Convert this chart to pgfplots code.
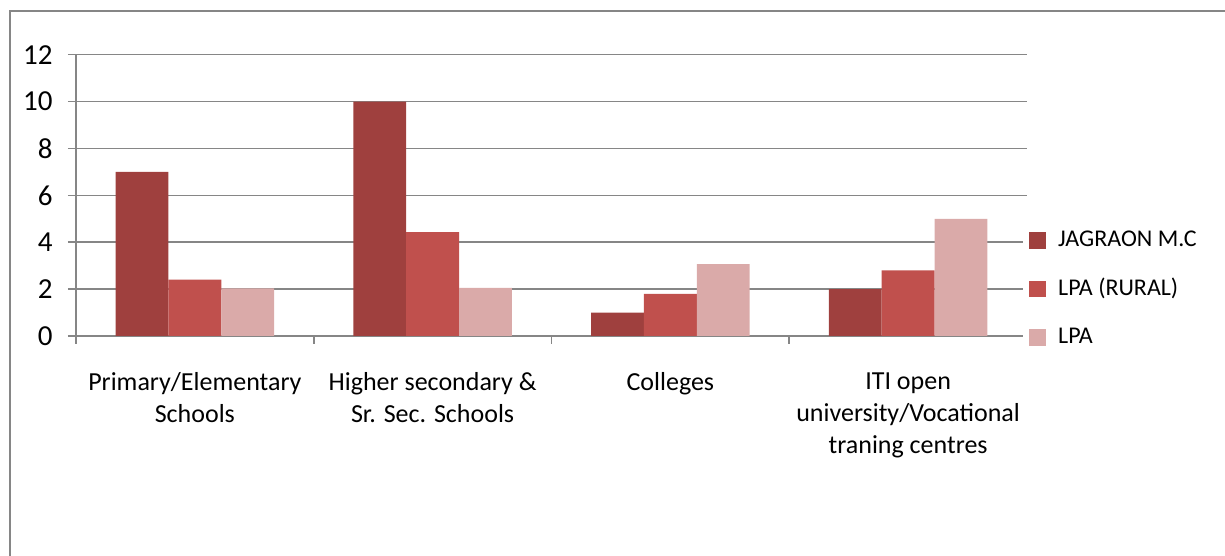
\documentclass[border=0pt]{standalone}
\usepackage{pgfplots}
\pgfplotsset{compat=1.18}
\usepackage{fontspec}
\setmainfont{Carlito}
\definecolor{jag}{RGB}{159,64,62}
\definecolor{rural}{RGB}{192,80,77}
\definecolor{lpa}{RGB}{218,170,169}
\definecolor{gridc}{RGB}{134,134,134}
\begin{document}
\begin{tikzpicture}
\path[use as bounding box] (0,0) rectangle (612.5pt,278pt);
\draw[gridc, line width=1pt] (5pt,0) -- (5pt,272.5pt) -- (612.5pt,272.5pt);
\begin{axis}[
  at={(38pt,110pt)}, anchor=south west,
  scale only axis, width=475.5pt, height=140.65pt,
  ybar=0pt, bar width=0.222,
  xmin=-0.5, xmax=3.5, ymin=0, ymax=12,
  ytick={0,2,...,12},
  xtick={0,1,2,3},
  xticklabels={{Primary/Elementary\\Schools},{Higher secondary \&\\Sr. Sec. Schools},{Colleges},{ITI open\\university/Vocational\\traning centres}},
  minor xtick={-0.5,0.5,1.5,2.5,3.5},
  major x tick style={draw=none},
  minor tick length=4pt, major tick length=4pt,
  tick align=outside,
  axis x line*=bottom, axis y line*=left,
  axis line style={gridc, line width=0.8pt},
  tick style={gridc, line width=0.8pt},
  ymajorgrids, grid style={gridc, line width=0.8pt},
  every axis plot/.append style={draw=none},
  /pgf/number format/assume math mode=true,
  ticklabel style={font=\fontsize{13}{16}\selectfont, text=black},
  yticklabel style={anchor=east, inner sep=0pt, xshift=-7.5pt, font=\fontsize{14.5}{16}\selectfont},
  xticklabel style={align=center, anchor=north, inner sep=0pt, yshift=-14pt},
  legend style={draw=none, at={(0.9956,0.167)}, anchor=west, font=\fontsize{12}{14}\selectfont,
    row sep=8.25pt, nodes={inner sep=2pt, text height=9pt, text depth=3pt}},
  legend image code/.code={\fill[#1] (0pt,-4.2pt) rectangle (8.5pt,4.2pt); \path (12.5pt,0pt);},
  legend cell align=left,
]
\addplot[fill=jag] coordinates {(0,7) (1,10) (2,1) (3,2)};
\addplot[fill=rural] coordinates {(0,2.4) (1,4.43) (2,1.8) (3,2.8)};
\addplot[fill=lpa] coordinates {(0,2.03) (1,2.05) (2,3.07) (3,5)};
\legend{JAGRAON M.C, LPA (RURAL), LPA}
\end{axis}
\end{tikzpicture}
\end{document}
